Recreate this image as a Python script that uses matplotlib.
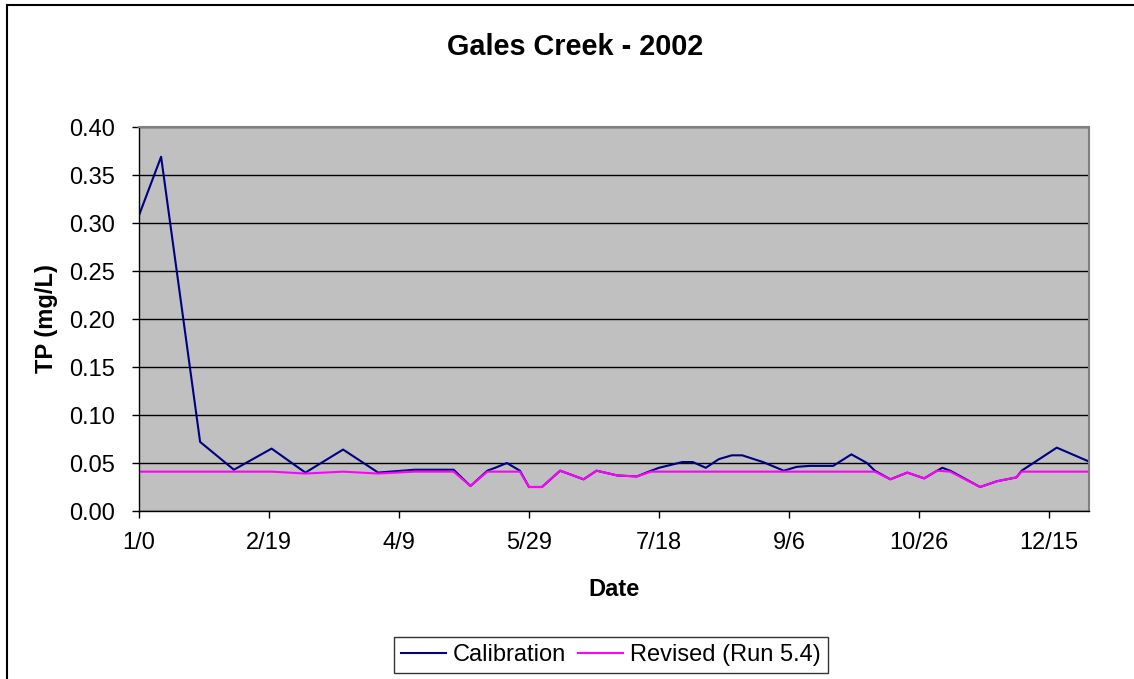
import numpy as np
import matplotlib
matplotlib.use("Agg")
import matplotlib.pyplot as plt
from matplotlib.patches import Rectangle

# ========================================
# Data (day of year, TP in mg/L)
# ========================================

cal_day = [0, 8.5, 23.5, 36.5, 51, 64, 78.5, 92, 106, 121, 127.5, 134, 137,
           141.5, 146.5, 150, 155, 162, 171, 176, 184, 191.5, 197, 200, 209,
           213, 218, 223, 228, 232, 240, 248, 253, 258, 267, 274, 280, 283,
           289, 295.5, 302, 307, 309, 312, 323.5, 330, 337.5, 339.5, 353, 365]
cal_tp = [0.308, 0.369, 0.072, 0.043, 0.065, 0.040, 0.064, 0.040, 0.043, 0.043,
          0.026, 0.042, 0.045, 0.050, 0.042, 0.025, 0.025, 0.042, 0.033, 0.042,
          0.037, 0.036, 0.042, 0.045, 0.051, 0.051, 0.045, 0.054, 0.058, 0.058,
          0.051, 0.042, 0.046, 0.047, 0.047, 0.059, 0.050, 0.042, 0.033, 0.040,
          0.034, 0.042, 0.045, 0.042, 0.025, 0.031, 0.035, 0.042, 0.066, 0.052]

rev_day = [0, 51, 64, 78.5, 92, 106, 121, 127.5, 134, 146.5, 150, 155, 162,
           171, 176, 184, 191.5, 197, 283, 289, 295.5, 302, 307, 312, 323.5,
           330, 337.5, 339.5, 365]
rev_tp = [0.041, 0.041, 0.039, 0.041, 0.039, 0.041, 0.041, 0.026, 0.041, 0.041,
          0.025, 0.025, 0.042, 0.033, 0.042, 0.037, 0.036, 0.041, 0.041, 0.033,
          0.040, 0.034, 0.042, 0.041, 0.025, 0.031, 0.035, 0.041, 0.041]

x_ticks = [0, 50, 100, 150, 200, 250, 300, 350]
x_labels = ["1/0", "2/19", "4/9", "5/29", "7/18", "9/6", "10/26", "12/15"]
y_ticks = [0.00, 0.05, 0.10, 0.15, 0.20, 0.25, 0.30, 0.35, 0.40]

# ========================================
# Setup figure
# ========================================

plt.rcParams['font.family'] = ['Liberation Sans', 'DejaVu Sans']

W, H = 1134, 679
fig = plt.figure(figsize=(W / 100, H / 100), dpi=100)

# outer chart border
fig.patches.append(Rectangle((7 / W, -0.05), 1.2, 1 - 5 / H + 0.05,
                             transform=fig.transFigure, fill=False,
                             edgecolor='black', linewidth=1.5))

ax = fig.add_axes([139 / W, 1 - 511 / H, (1089 - 139) / W, (511 - 127) / H])
ax.set_facecolor('#C0C0C0')

ax.plot(cal_day, cal_tp, color='#000080', linewidth=1.5, label='Calibration')
ax.plot(rev_day, rev_tp, color='#FF00FF', linewidth=1.5, label='Revised (Run 5.4)')

ax.set_xlim(0, 365.4)
ax.set_ylim(0, 0.40)
ax.set_xticks(x_ticks)
ax.set_xticklabels(x_labels)
ax.set_yticks(y_ticks)
ax.set_yticklabels([f"{v:.2f}" for v in y_ticks])

ax.grid(axis='y', color='black', linewidth=1.0)
ax.set_axisbelow(True)

for side in ['top', 'right']:
    ax.spines[side].set_color('#808080')
    ax.spines[side].set_linewidth(1.5)
for side in ['left', 'bottom']:
    ax.spines[side].set_color('black')
    ax.spines[side].set_linewidth(1.0)

ax.tick_params(direction='out', length=5, width=1, labelsize=17, pad=10)
ax.tick_params(axis='y', pad=12)

# ========================================
# Text
# ========================================

fig.text(575 / W, 1 - 47 / H, "Gales Creek - 2002", ha='center', va='center',
         fontsize=20.8, fontweight='bold')
fig.text(614 / W, 1 - 589 / H, "Date", ha='center', va='center',
         fontsize=17, fontweight='bold')
fig.text(46 / W, 1 - 319 / H, "TP (mg/L)", ha='center', va='center',
         rotation=90, fontsize=17, fontweight='bold')

leg = fig.legend(loc='center', bbox_to_anchor=(611 / W, 1 - 655 / H), ncol=2,
                 fontsize=17, frameon=True, fancybox=False, handlelength=1.9,
                 handletextpad=0.3, columnspacing=0.5, borderpad=0.3,
                 borderaxespad=0)
leg.get_frame().set_edgecolor('black')
leg.get_frame().set_linewidth(1.0)

fig.savefig("out.png", dpi=100)
